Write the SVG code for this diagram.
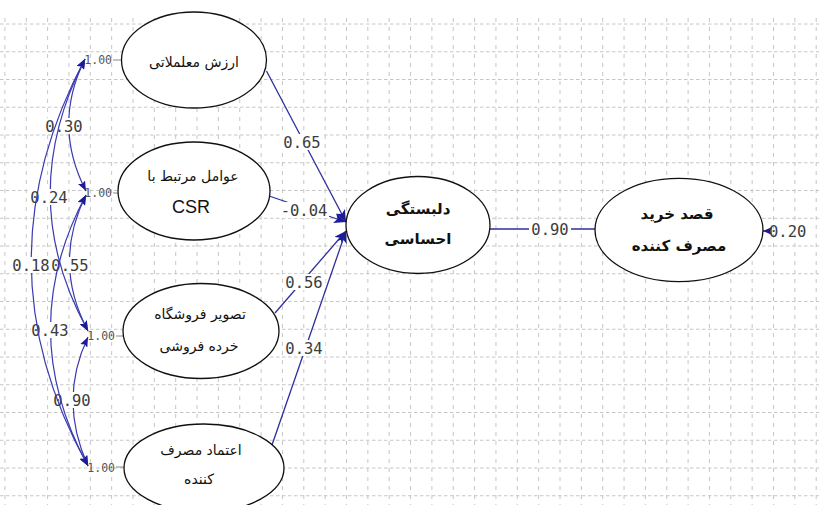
<svg xmlns="http://www.w3.org/2000/svg" width="819" height="505" viewBox="0 0 819 505">
<defs>
<style>
.grid{fill:none;stroke:#c6c6c6;stroke-width:1}
.gh{stroke-dasharray:3.5 2.5}
.gv{stroke-dasharray:4 5}
.node ellipse{fill:#fff;stroke:#111;stroke-width:1.3}
.fa{font-family:"DejaVu Sans","Noto Sans",sans-serif;font-size:14px;fill:#111;text-anchor:middle}
.fb{font-family:"DejaVu Sans","Noto Sans",sans-serif;font-size:15px;font-weight:bold;fill:#111;text-anchor:middle}
.fl{font-family:"Liberation Sans",Arial,sans-serif;font-size:18px;fill:#111;text-anchor:middle}
.lbl{font-family:"DejaVu Sans Mono","Liberation Mono",monospace;font-size:15.5px;fill:#3c3c3c;text-anchor:middle}
.var{font-family:"DejaVu Sans Mono","Liberation Mono",monospace;font-size:11.5px;fill:#555;text-anchor:end}
.pl{stroke:#2e2e9e;stroke-width:1.3;fill:none}
.cv{stroke:#3a3ab2;stroke-width:1.2;fill:none;marker-start:url(#ac);marker-end:url(#ac)}
.vl{stroke:#888;stroke-width:1}
.bg{fill:#fff}
</style>
<marker id="ah" markerUnits="userSpaceOnUse" viewBox="0 0 13 10" markerWidth="13" markerHeight="10" refX="12" refY="5" orient="auto"><path d="M0,0 L12,5 L0,10 L3,5 z" fill="#1c1c96"/></marker>
<marker id="ah2" markerUnits="userSpaceOnUse" viewBox="0 0 10 8" markerWidth="10" markerHeight="8" refX="9" refY="4" orient="auto"><path d="M0,0 L9,4 L0,8 L2,4 z" fill="#1c1c96"/></marker>
<marker id="ac" markerUnits="userSpaceOnUse" viewBox="0 0 11 8" markerWidth="11" markerHeight="8" refX="10" refY="4" orient="auto-start-reverse"><path d="M0,0 L10,4 L0,8 L2,4 z" fill="#1c1c96"/></marker>
</defs>
<rect width="819" height="505" fill="#fff"/>
<g id="grid">
<path class="grid gh" d="M0,24H819M0,51.75H819M0,79.5H819M0,107.25H819M0,135H819M0,162.75H819M0,190.5H819M0,218.25H819M0,246H819M0,273.75H819M0,301.5H819M0,329.25H819M0,357H819M0,384.75H819M0,412.5H819M0,440.25H819M0,468H819M0,495.75H819"/>
<path class="grid gv" d="M4.9,18V505M26.25,18V505M47.6,18V505M68.95,18V505M90.3,18V505M111.65,18V505M133,18V505M154.35,18V505M175.7,18V505M197.05,18V505M218.4,18V505M239.75,18V505M261.1,18V505M282.45,18V505M303.8,18V505M325.15,18V505M346.5,18V505M367.85,18V505M389.2,18V505M410.55,18V505M431.9,18V505M453.25,18V505M474.6,18V505M495.95,18V505M517.3,18V505M538.65,18V505M560,18V505M581.35,18V505M602.7,18V505M624.05,18V505M645.4,18V505M666.75,18V505M688.1,18V505M709.45,18V505M730.8,18V505M752.15,18V505M773.5,18V505M794.85,18V505M816.2,18V505"/>
</g>
<g id="connectors">
<line class="pl" x1="266.5" y1="71" x2="346" y2="222" marker-end="url(#ah)"/>
<line class="pl" x1="269" y1="196" x2="346" y2="222" marker-end="url(#ah)"/>
<line class="pl" x1="275" y1="313" x2="346" y2="231" marker-end="url(#ah)"/>
<line class="pl" x1="272" y1="445" x2="346" y2="231" marker-end="url(#ah)"/>
<line class="pl" x1="490" y1="229" x2="596" y2="229"/>
<line class="pl" x1="770" y1="231" x2="763" y2="231" marker-end="url(#ah2)"/>
<line class="vl" x1="113" y1="60" x2="122" y2="60"/>
<line class="vl" x1="113" y1="193" x2="119" y2="193"/>
<line class="vl" x1="116" y1="336" x2="123" y2="336"/>
<line class="vl" x1="116" y1="467" x2="124" y2="467"/>
<rect class="bg" x="281" y="134" width="42" height="16"/><text class="lbl" x="302" y="147.6">0.65</text>
<rect class="bg" x="279" y="202" width="50" height="16"/><text class="lbl" x="304" y="215.6">-0.04</text>
<rect class="bg" x="283" y="274" width="42" height="16"/><text class="lbl" x="304" y="287.6">0.56</text>
<rect class="bg" x="283" y="340" width="42" height="16"/><text class="lbl" x="304" y="353.6">0.34</text>
<rect class="bg" x="529" y="221" width="42" height="16"/><text class="lbl" x="550" y="234.6">0.90</text>
<text class="lbl" x="769" y="236.6" style="text-anchor:start">0.20</text>
<path class="cv" d="M85,59 Q52,125 86,191"/>
<rect class="bg" x="45" y="118" width="38" height="16"/><text class="lbl" x="64" y="131.6">0.30</text>
<path class="cv" d="M86,195 Q52,263 88,331"/>
<rect class="bg" x="51" y="257" width="38" height="16"/><text class="lbl" x="70" y="270.6">0.55</text>
<path class="cv" d="M88,337 Q58,400 88,466"/>
<rect class="bg" x="53" y="392" width="38" height="16"/><text class="lbl" x="72" y="405.6">0.90</text>
<path class="cv" d="M85,59 Q14,197 88,331"/>
<rect class="bg" x="30" y="189" width="38" height="16"/><text class="lbl" x="49" y="202.6">0.24</text>
<path class="cv" d="M86,195 Q14,330 88,466"/>
<rect class="bg" x="31" y="322" width="38" height="16"/><text class="lbl" x="50" y="335.6">0.43</text>
<path class="cv" d="M85,59 Q-24,264 88,466"/>
<rect class="bg" x="12" y="257" width="38" height="16"/><text class="lbl" x="31" y="270.6">0.18</text>
<text class="var" x="112" y="64">1.00</text>
<text class="var" x="112" y="197">1.00</text>
<text class="var" x="115" y="340">1.00</text>
<text class="var" x="115" y="472">1.00</text>
</g>
<g id="n1" class="node"><ellipse cx="194" cy="60" rx="72.5" ry="48"/><text class="fa" x="194" y="67">ارزش معلملاتی</text></g>
<g id="n2" class="node"><ellipse cx="194" cy="191" rx="76" ry="49"/><text class="fa" x="193" y="181">عوامل مرتبط با</text><text class="fl" x="191" y="213">CSR</text></g>
<g id="n3" class="node"><ellipse cx="201" cy="331" rx="78" ry="47.5"/><text class="fa" x="200" y="319">تصویر فروشگاه</text><text class="fa" x="199" y="351">خرده فروشی</text></g>
<g id="n4" class="node"><ellipse cx="204" cy="468" rx="80" ry="44"/><text class="fa" x="201" y="455">اعتماد مصرف</text><text class="fa" x="199" y="484">کننده</text></g>
<g id="n5" class="node"><ellipse cx="418" cy="225" rx="72" ry="48.5"/><text class="fb" x="418" y="214">دلبستگی</text><text class="fb" x="418" y="244">احساسی</text></g>
<g id="n6" class="node"><ellipse cx="679" cy="230" rx="84" ry="51.7"/><text class="fb" x="677" y="219">قصد خرید</text><text class="fb" x="679" y="251">مصرف کننده</text></g>
</svg>
